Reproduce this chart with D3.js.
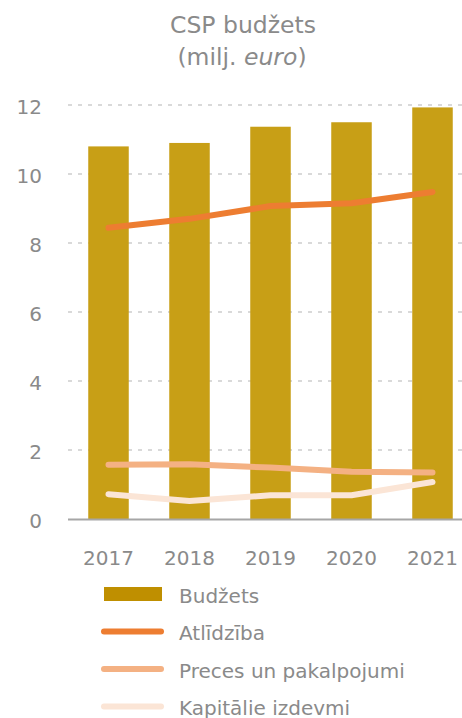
<!DOCTYPE html>
<html>
<head>
<meta charset="utf-8">
<script src="https://cdn.jsdelivr.net/npm/d3@7"></script>
<style>
  html, body { margin: 0; padding: 0; background: #fff; }
  svg { display: block; font-family: "DejaVu Sans", Verdana, sans-serif; }
</style>
</head>
<body>
<svg id="chart" width="462" height="718"></svg>
<script>
const years = ["2017", "2018", "2019", "2020", "2021"];
const budzets = [10.8, 10.9, 11.37, 11.5, 11.93];
const atlidziba = [8.44, 8.7, 9.07, 9.15, 9.48];
const preces = [1.57, 1.59, 1.49, 1.37, 1.35];
const kapitalie = [0.72, 0.52, 0.69, 0.69, 1.07];
const yTicks = [0, 2, 4, 6, 8, 10, 12];
const titleLines = ["CSP budžets"];
const legendLabels = ["Budžets", "Atlīdzība", "Preces un pakalpojumi", "Kapitālie izdevmi"];

const colors = {
  bar: "#C89F16",
  barLegend: "#BF8F00",
  atl: "#ED7D31",
  pre: "#F4B183",
  kap: "#FBE5D6",
  text: "#8A8A8A",
  grid: "#D9D9D9",
  axis: "#A6A6A6"
};

const svg = d3.select("#chart");

const x = d3.scaleBand().domain(years).range([68, 473]).paddingInner(0.5).paddingOuter(0.25);
const y = d3.scaleLinear().domain([0, 12]).range([519, 105]);

// Title
svg.append("text")
  .attr("x", 243).attr("y", 33)
  .attr("text-anchor", "middle")
  .attr("fill", colors.text)
  .attr("font-size", 23.5)
  .text(titleLines[0]);
const t2 = svg.append("text")
  .attr("x", 242).attr("y", 65)
  .attr("text-anchor", "middle")
  .attr("fill", colors.text)
  .attr("font-size", 23.5);
t2.append("tspan").text("(milj. ");
t2.append("tspan").attr("font-style", "italic").text("euro");
t2.append("tspan").text(")");

// Gridlines
svg.append("g").selectAll("line")
  .data(yTicks.filter(d => d !== 0))
  .join("line")
  .attr("x1", 68).attr("x2", 473)
  .attr("y1", d => y(d)).attr("y2", d => y(d))
  .attr("stroke", colors.grid)
  .attr("stroke-width", 2)
  .attr("stroke-dasharray", "4,6");

// Y tick labels
svg.append("g").selectAll("text")
  .data(yTicks)
  .join("text")
  .attr("x", 42)
  .attr("y", d => y(d) + 8.5)
  .attr("text-anchor", "end")
  .attr("fill", colors.text)
  .attr("font-size", 20)
  .text(d => d);

// Bars
svg.append("g").selectAll("rect")
  .data(years.map((yr, i) => ({ yr, v: budzets[i] })))
  .join("rect")
  .attr("x", d => x(d.yr))
  .attr("width", x.bandwidth())
  .attr("y", d => y(d.v))
  .attr("height", d => y(0) - y(d.v))
  .attr("fill", colors.bar);

// X axis line
svg.append("line")
  .attr("x1", 68).attr("x2", 473)
  .attr("y1", y(0) + 0.5).attr("y2", y(0) + 0.5)
  .attr("stroke", colors.axis)
  .attr("stroke-width", 2);

// X labels
svg.append("g").selectAll("text")
  .data(years)
  .join("text")
  .attr("x", d => x(d) + x.bandwidth() / 2)
  .attr("y", 565)
  .attr("text-anchor", "middle")
  .attr("fill", colors.text)
  .attr("font-size", 20)
  .text(d => d);

// Lines
const line = d3.line()
  .x((d, i) => x(years[i]) + x.bandwidth() / 2)
  .y(d => y(d));

[[kapitalie, colors.kap], [preces, colors.pre], [atlidziba, colors.atl]].forEach(([data, c]) => {
  svg.append("path")
    .attr("d", line(data))
    .attr("fill", "none")
    .attr("stroke", c)
    .attr("stroke-width", 6)
    .attr("stroke-linecap", "round")
    .attr("stroke-linejoin", "round");
});

// Legend
const legendColors = [colors.barLegend, colors.atl, colors.pre, colors.kap];
const lg = svg.append("g");
legendLabels.forEach((lab, i) => {
  const cy = 594 + i * 37.5;
  if (i === 0) {
    lg.append("rect")
      .attr("x", 104).attr("y", cy - 7)
      .attr("width", 58).attr("height", 14)
      .attr("fill", legendColors[i]);
  } else {
    lg.append("line")
      .attr("x1", 104).attr("x2", 161)
      .attr("y1", cy).attr("y2", cy)
      .attr("stroke", legendColors[i])
      .attr("stroke-width", 6)
      .attr("stroke-linecap", "round");
  }
  lg.append("text")
    .attr("x", 179).attr("y", cy + 8.5)
    .attr("fill", colors.text)
    .attr("font-size", 20)
    .text(lab);
});
</script>
</body>
</html>
